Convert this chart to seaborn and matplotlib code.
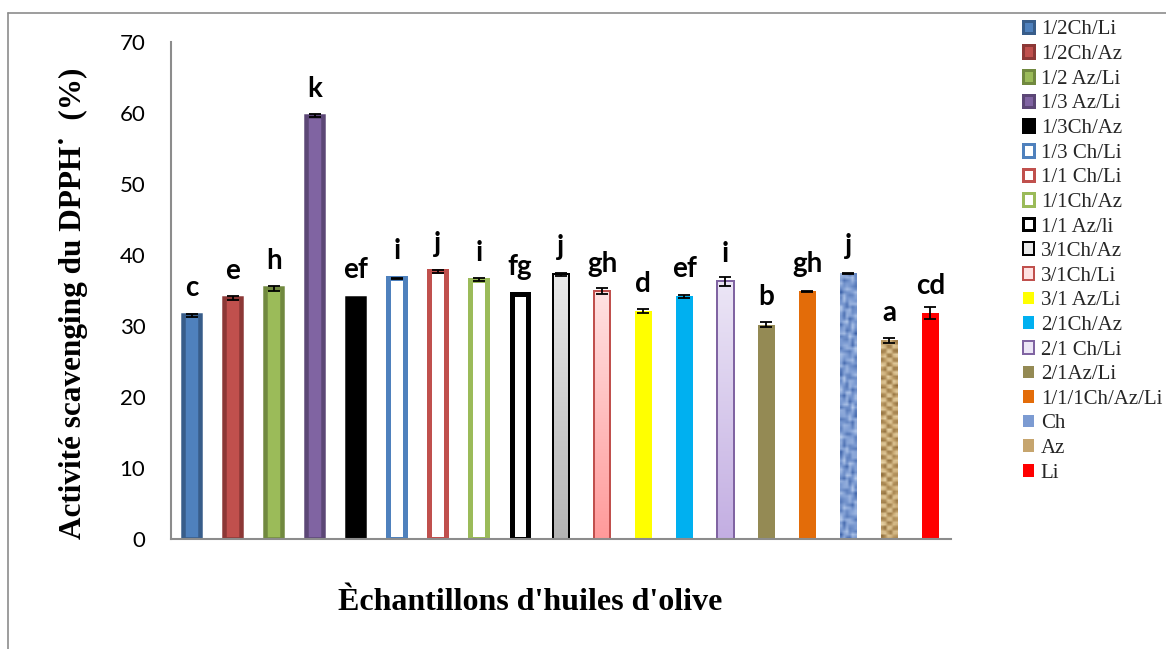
import numpy as np
import pandas as pd
import matplotlib
matplotlib.use("Agg")
import matplotlib.pyplot as plt
import seaborn as sns
from matplotlib.patches import Patch
from matplotlib.lines import Line2D
from matplotlib.colors import LinearSegmentedColormap, to_rgb

# ---- data -------------------------------------------------------------
categories = ["1/2Ch/Li", "1/2Ch/Az", "1/2 Az/Li", "1/3 Az/Li", "1/3Ch/Az",
              "1/3 Ch/Li", "1/1 Ch/Li", "1/1Ch/Az", "1/1 Az/li", "3/1Ch/Az",
              "3/1Ch/Li", "3/1 Az/Li", "2/1Ch/Az", "2/1 Ch/Li", "2/1Az/Li",
              "1/1/1Ch/Az/Li", "Ch", "Az", "Li"]
scavenging = [31.5, 33.9, 35.3, 59.6, 34.0, 36.7, 37.7, 36.5, 34.5, 37.3,
              34.9, 32.1, 34.2, 36.3, 30.2, 34.9, 37.4, 28.0, 31.8]
errors = [0.2, 0.3, 0.3, 0.2, 0.0, 0.1, 0.2, 0.2, 0.0, 0.2,
          0.4, 0.25, 0.2, 0.6, 0.3, 0.1, 0.1, 0.35, 0.85]
letters = ["c", "e", "h", "k", "ef", "i", "j", "i", "fg", "j",
           "gh", "d", "ef", "i", "b", "gh", "j", "a", "cd"]
yticks = [0, 10, 20, 30, 40, 50, 60, 70]

# ---- styles -----------------------------------------------------------
fills = ["#4F81BD", "#C0504D", "#9BBB59", "#8064A2", "#000000",
         "#FFFFFF", "#FFFFFF", "#FFFFFF", "#FFFFFF", "#D4D4D4",
         "#FFC4C4", "#FFFF00", "#00B0F0", "#DACDED", "#948A54",
         "#E36C09", "#7C9BD2", "#C6A56E", "#FF0000"]
edges = ["#385D8A", "#8C3836", "#71893F", "#5C4776", "#000000",
         "#4F81BD", "#C0504D", "#9BBB59", "#000000", "#000000",
         "#C0504D", "none", "none", "#8064A2", "none",
         "none", "none", "none", "none"]
edge_px = [4.5, 4.5, 4.5, 4.5, 4.5, 5, 5, 5, 5, 2, 2, 0, 0, 2, 0, 0, 0, 0, 0]
gradients = {"3/1Ch/Az": ("#E9E9E9", "#B3B3B3"),
             "3/1Ch/Li": ("#FFE2E2", "#FF9A9A"),
             "2/1 Ch/Li": ("#ECE6F6", "#C3AEE2")}
textures = {"Ch": ("#3E63A8", "#7C9BD2", "#B8CCEC", "mottled"),
            "Az": ("#8E6C3A", "#C6A56E", "#E8D4A8", "woven")}


def texture(kind, dark, mid, light, h=90, w=6):
    yy, xx = np.mgrid[0:h, 0:w].astype(float)
    f = (np.sin(xx * 1.9 + yy * 0.7) + np.sin(xx * 0.8 - yy * 1.6 + 1.1)
         + 0.8 * np.sin(yy * 0.45 + xx * 2.7 + 2.0)
         + 0.6 * np.sin(yy * 2.9 - xx * 0.5))
    f = (f - f.min()) / (f.max() - f.min())
    if kind == "woven":
        weave = (((xx // 2) % 2) != ((yy // 2) % 2)).astype(float)
        f = 0.5 * weave + 0.5 * f
    cmap = LinearSegmentedColormap.from_list(kind, [dark, mid, light])
    return cmap(f)[..., :3]


sns.set_theme(style="white")
plt.rcParams["font.family"] = ["Lato", "DejaVu Sans"]

W, H = 1166, 649
fig = plt.figure(figsize=(W / 100, H / 100), dpi=100)
ax = fig.add_axes([171 / W, 1 - 539 / H, 780 / W, 497 / H])

df = pd.DataFrame({"sample": categories, "scavenging": scavenging})
sns.barplot(data=df, x="sample", y="scavenging", hue="sample",
            palette=dict(zip(categories, fills)), dodge=False, legend=False,
            width=0.41, saturation=1, errorbar=None, ax=ax)

px2pt = 72 / 100
bars = sorted(ax.patches, key=lambda p: p.get_x())
for cat, bar, ec, lw in zip(categories, bars, edges, edge_px):
    bar.set_edgecolor(ec)
    bar.set_linewidth(lw * px2pt)
    x0, y0 = bar.get_x(), bar.get_y()
    x1, y1 = x0 + bar.get_width(), y0 + bar.get_height()
    img = None
    if cat in gradients:
        top, bot = gradients[cat]
        t = np.linspace(0, 1, 200)[:, None, None]
        img = (1 - t) * np.array(to_rgb(top)) + t * np.array(to_rgb(bot))
    elif cat in textures:
        d, m, l, kind = textures[cat]
        img = texture(kind, d, m, l)
    if img is not None:
        bar.set_facecolor("none")
        im = ax.imshow(img, extent=[x0, x1, y0, y1], origin="upper",
                       aspect="auto", interpolation="bilinear",
                       zorder=bar.get_zorder() - 0.01)
        im.set_clip_path(bar)

xpos = np.arange(len(categories))
ax.errorbar(xpos, scavenging, yerr=errors, fmt="none", ecolor="black",
            elinewidth=1.3, capsize=4, capthick=1.3, zorder=5)

for x, v, lab in zip(xpos, scavenging, letters):
    ax.text(x, v + 2.7, lab, ha="center", va="baseline", fontsize=20,
            fontweight="bold", color="black")

ax.set_xlim(-0.5, len(categories) - 0.5)
ax.set_ylim(0, 70)
ax.set_yticks(yticks)
ax.set_yticklabels([str(t) for t in yticks])
ax.set_xticks([])
ax.set_xlabel("")
ax.set_ylabel("")
ax.tick_params(axis="y", length=0, pad=18.5, labelsize=16, labelcolor="black")
for side in ("top", "right"):
    ax.spines[side].set_visible(False)
for side in ("left", "bottom"):
    ax.spines[side].set_color("#8C8C8C")
    ax.spines[side].set_linewidth(1.5)

serif_bold = dict(family=["Liberation Serif", "DejaVu Serif"], fontweight="bold",
                  color="black")
fig.text(73 / W, 1 - 303 / H, "Activité scavenging du DPPH˙  (%)", rotation=90,
         ha="center", va="center", fontsize=22.5, **serif_bold)
fig.text(530 / W, 1 - 610 / H, "Èchantillons d'huiles d'olive",
         ha="center", va="baseline", fontsize=23, **serif_bold)

# legend
handles = []
for cat, fc, ec, lw in zip(categories, fills, edges, edge_px):
    fcol = fc
    if cat in gradients:
        fcol = gradients[cat][0]
    handles.append(Patch(facecolor=fcol, edgecolor=ec,
                         linewidth=min(lw, 3) * px2pt))
fig.legend(handles, categories, loc="upper left",
           bbox_to_anchor=(1023 / W, 1 - 20.5 / H), frameon=False,
           prop=dict(family=["Liberation Serif", "DejaVu Serif"], size=15),
           handlelength=0.55, handleheight=0.55, handletextpad=0.3,
           labelspacing=0.27, borderpad=0, borderaxespad=0)

# outer frame
fig.add_artist(Line2D([8 / W, 1], [1 - 13 / H, 1 - 13 / H],
                      transform=fig.transFigure, color="#8C8C8C", lw=1.2))
fig.add_artist(Line2D([8 / W, 8 / W], [0, 1 - 13 / H],
                      transform=fig.transFigure, color="#8C8C8C", lw=1.2))

fig.savefig("out.png", dpi=100)
